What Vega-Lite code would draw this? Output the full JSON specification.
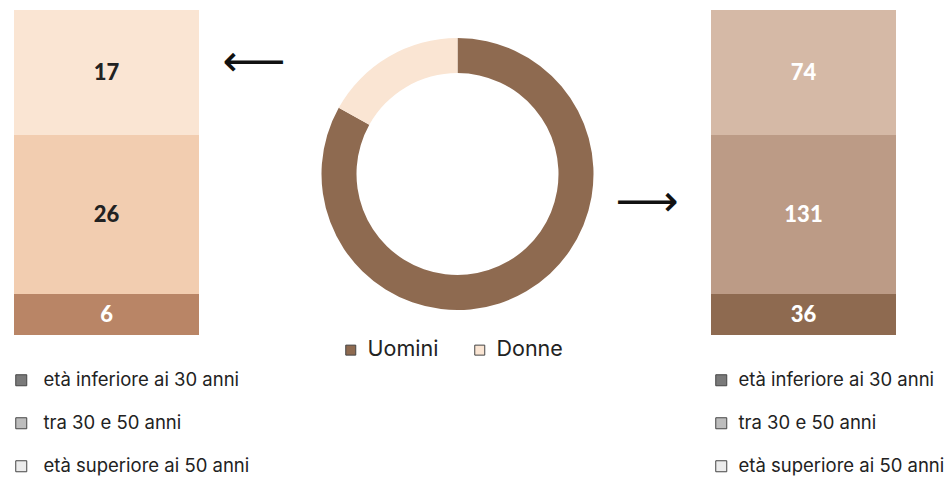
{
  "$schema": "https://vega.github.io/schema/vega-lite/v6.json",
  "background": "white",
  "padding": {"left": 12, "top": 10, "right": 0, "bottom": 142},
  "bounds": "flush",
  "spacing": 10,
  "config": {"view": {"stroke": null}, "font": "Inter"},
  "resolve": {
    "scale": {"color": "independent", "fill": "independent", "y": "independent"},
    "legend": {"color": "independent", "fill": "independent"}
  },
  "datasets": {
    "donne": [
      {"fascia": "età inferiore ai 30 anni", "classe": 1, "valore": 6},
      {"fascia": "tra 30 e 50 anni", "classe": 2, "valore": 26},
      {"fascia": "età superiore ai 50 anni", "classe": 3, "valore": 17}
    ],
    "uomini": [
      {"fascia": "età inferiore ai 30 anni", "classe": 1, "valore": 36},
      {"fascia": "tra 30 e 50 anni", "classe": 2, "valore": 131},
      {"fascia": "età superiore ai 50 anni", "classe": 3, "valore": 74}
    ],
    "genere": [
      {"genere": "Uomini", "valore": 241},
      {"genere": "Donne", "valore": 49}
    ]
  },
  "hconcat": [
    {
      "width": 185,
      "height": 325,
      "data": {"name": "donne"},
      "transform": [
        {"stack": "valore", "groupby": [], "sort": [{"field": "classe"}], "as": ["v0", "v1"]},
        {"calculate": "(datum.v0 + datum.v1) / 2", "as": "vm"}
      ],
      "layer": [
        {
          "mark": {"type": "rect"},
          "encoding": {
            "y": {"field": "v0", "type": "quantitative", "scale": {"domain": [0, 6, 32, 49], "range": [325, 284, 125, 0], "nice": false, "zero": false}, "axis": null},
            "y2": {"field": "v1"},
            "color": {"field": "classe", "type": "ordinal", "scale": {"domain": [1, 2, 3], "range": ["#B98566", "#F2CDB0", "#FAE5D3"]}, "legend": null}
          }
        },
        {
          "mark": {"type": "text", "font": "Lato", "fontWeight": 900, "fontSize": 22},
          "encoding": {
            "y": {"field": "vm", "type": "quantitative"},
            "text": {"field": "valore", "type": "quantitative"},
            "color": {"condition": {"test": "datum.classe == 1", "value": "#ffffff"}, "value": "#222222"}
          }
        },
        {
          "mark": {"type": "square", "filled": true, "opacity": 0},
          "encoding": {
            "fill": {
              "field": "fascia", "type": "nominal",
              "scale": {"domain": ["età inferiore ai 30 anni", "tra 30 e 50 anni", "età superiore ai 50 anni"], "range": ["#7a7a7a", "#bdbdbd", "#ececec"]},
              "legend": {
                "orient": "none", "legendX": -2, "legendY": 361, "direction": "vertical", "title": null, "padding": 0,
                "symbolType": "square", "symbolSize": 121, "labelFont": "Inter", "labelFontSize": 18.5, "labelColor": "#222222",
                "labelOffset": 13, "rowPadding": 24, "labelLimit": 400,
                "encode": {"symbols": {"update": {"stroke": {"value": "#444444"}, "strokeWidth": {"value": 1}, "opacity": {"value": 1}}}}
              }
            }
          }
        }
      ]
    },
    {
      "width": 492,
      "height": 325,
      "layer": [
        {
          "data": {"name": "genere"},
          "mark": {"type": "arc", "outerRadius": 136, "innerRadius": 101, "xOffset": 2.5, "yOffset": 1.5},
          "encoding": {
            "theta": {"field": "valore", "type": "quantitative", "stack": true},
            "order": {"field": "genere", "sort": "descending"},
            "color": {
              "field": "genere", "type": "nominal",
              "scale": {"domain": ["Uomini", "Donne"], "range": ["#8E6A50", "#FAE5D3"]},
              "legend": {
                "orient": "none", "legendX": 131, "legendY": 329, "direction": "horizontal", "title": null, "padding": 0,
                "symbolType": "square", "symbolSize": 100, "labelFont": "Inter", "labelFontSize": 21.5, "labelColor": "#222222",
                "labelOffset": 6, "columnPadding": 30, "labelLimit": 400,
                "encode": {"symbols": {"update": {"stroke": {"value": "#444444"}, "strokeWidth": {"value": 1}, "opacity": {"value": 1}}}}
              }
            }
          }
        },
        {
          "data": {"values": [{"direzione": "sinistra"}]},
          "mark": {"type": "text", "text": "⟵", "font": "DejaVu Sans", "fontSize": 44, "color": "#111111", "align": "center", "baseline": "middle"},
          "encoding": {"x": {"value": 45}, "y": {"value": 53}}
        },
        {
          "data": {"values": [{"direzione": "destra"}]},
          "mark": {"type": "text", "text": "⟶", "font": "DejaVu Sans", "fontSize": 44, "color": "#111111", "align": "center", "baseline": "middle"},
          "encoding": {"x": {"value": 438}, "y": {"value": 193}}
        }
      ]
    },
    {
      "width": 185,
      "height": 325,
      "data": {"name": "uomini"},
      "transform": [
        {"stack": "valore", "groupby": [], "sort": [{"field": "classe"}], "as": ["v0", "v1"]},
        {"calculate": "(datum.v0 + datum.v1) / 2", "as": "vm"}
      ],
      "layer": [
        {
          "mark": {"type": "rect"},
          "encoding": {
            "y": {"field": "v0", "type": "quantitative", "scale": {"domain": [0, 36, 167, 241], "range": [325, 284, 125, 0], "nice": false, "zero": false}, "axis": null},
            "y2": {"field": "v1"},
            "color": {"field": "classe", "type": "ordinal", "scale": {"domain": [1, 2, 3], "range": ["#8E6A50", "#BC9B86", "#D5B9A6"]}, "legend": null}
          }
        },
        {
          "mark": {"type": "text", "font": "Lato", "fontWeight": 900, "fontSize": 22, "color": "#ffffff"},
          "encoding": {
            "y": {"field": "vm", "type": "quantitative"},
            "text": {"field": "valore", "type": "quantitative"}
          }
        },
        {
          "mark": {"type": "square", "filled": true, "opacity": 0},
          "encoding": {
            "fill": {
              "field": "fascia", "type": "nominal",
              "scale": {"domain": ["età inferiore ai 30 anni", "tra 30 e 50 anni", "età superiore ai 50 anni"], "range": ["#7a7a7a", "#bdbdbd", "#ececec"]},
              "legend": {
                "orient": "none", "legendX": 1, "legendY": 361, "direction": "vertical", "title": null, "padding": 0,
                "symbolType": "square", "symbolSize": 121, "labelFont": "Inter", "labelFontSize": 18.5, "labelColor": "#222222",
                "labelOffset": 8, "rowPadding": 24, "labelLimit": 400,
                "encode": {"symbols": {"update": {"stroke": {"value": "#444444"}, "strokeWidth": {"value": 1}, "opacity": {"value": 1}}}}
              }
            }
          }
        }
      ]
    }
  ]
}
